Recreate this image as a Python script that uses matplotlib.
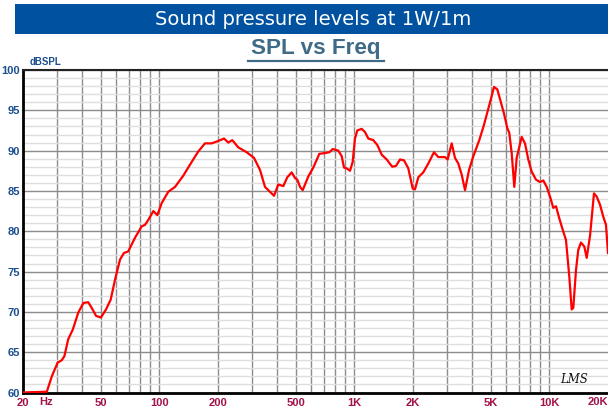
import matplotlib
matplotlib.use('Agg')
import matplotlib.pyplot as plt
from matplotlib.patches import Rectangle
from matplotlib.ticker import FixedLocator, NullFormatter
from matplotlib.transforms import blended_transform_factory

# ---- data ----
freq_hz = [20, 26.5, 28.1, 30.1, 31.6, 32.6, 34.1, 36.0, 38.4, 40.8, 43.2, 45.0,
           47.4, 50.2, 53.3, 56.3, 59.3, 62.9, 65.9, 69.3, 75.1, 81.2, 84.5, 87.8,
           93.2, 97.7, 102.9, 111.2, 120.4, 132.8, 146.6, 158.5, 171.5, 185.7,
           200.7, 214.7, 225.8, 236.7, 254.2, 280.7, 306, 328.5, 348.4, 369.6,
           387.6, 407.7, 432.5, 453.4, 477.5, 496.6, 510.2, 526.7, 543.9, 581,
           616.4, 661.6, 707.6, 744.6, 775, 828, 862, 885.6, 914, 950.6, 981,
           1008, 1036, 1091, 1135, 1180, 1251, 1312, 1382, 1466, 1566, 1636,
           1715, 1798, 1892, 1993, 2048, 2130, 2258, 2396, 2563, 2697, 2918,
           3012, 3158, 3284, 3415, 3556, 3697, 3876, 4076, 4375, 4625, 5006,
           5206, 5413, 5633, 5857, 6090, 6235, 6414, 6614, 6804, 7216, 7506,
           7804, 8122, 8546, 8960, 9316, 9697, 10084, 10484, 10823, 11254,
           11714, 12180, 12662, 13026, 13278, 13708, 14084, 14540, 15120,
           15554, 16172, 16952, 17502, 18198, 18920, 19530, 20000]
spl_db = [60.0, 60.1, 62.0, 63.7, 64.0, 64.5, 66.6, 67.8, 69.9, 71.1, 71.2, 70.5,
          69.5, 69.3, 70.3, 71.5, 74.0, 76.5, 77.3, 77.5, 79.2, 80.6, 80.8, 81.4,
          82.5, 82.0, 83.5, 84.9, 85.5, 86.9, 88.6, 89.9, 90.9, 90.9,
          91.2, 91.5, 91.0, 91.3, 90.4, 89.8, 89.1, 87.6, 85.5, 84.9,
          84.4, 85.8, 85.6, 86.7, 87.3, 86.6, 86.4, 85.5, 85.1, 86.8,
          87.9, 89.6, 89.7, 89.8, 90.2, 90.0, 89.3, 87.9, 87.8, 87.5, 88.6,
          91.5, 92.5, 92.7, 92.3, 91.5, 91.3, 90.7, 89.5, 88.9, 88.0, 88.1,
          88.9, 88.8, 87.8, 85.3, 85.2, 86.7, 87.3, 88.4, 89.8, 89.2, 89.2,
          88.9, 90.9, 89.1, 88.4, 87.0, 85.1, 87.6, 89.3, 91.3, 93.2, 96.3,
          97.9, 97.6, 96.1, 94.6, 92.8, 92.2, 89.7, 85.5, 89.1, 91.7, 90.9,
          88.9, 87.4, 86.4, 86.1, 86.3, 85.5, 84.3, 82.9, 83.1, 81.6,
          80.2, 78.9, 74.4, 70.3, 70.5, 75.2, 77.7, 78.6, 78.1,
          76.7, 79.4, 84.7, 84.3, 83.3, 81.8, 80.8, 77.3]

x_tick_values = [20, 50, 100, 200, 500, 1000, 2000, 5000, 10000, 20000]
x_tick_labels = ['20', '50', '100', '200', '500', '1K', '2K', '5K', '10K', '20K']
y_tick_values = [60, 65, 70, 75, 80, 85, 90, 95, 100]

banner_title = 'Sound pressure levels at 1W/1m'
chart_title = 'SPL vs Freq'
y_unit = 'dBSPL'

# ---- figure ----
W, H = 608, 411
fig = plt.figure(figsize=(W / 100, H / 100), dpi=100)

# axes run a little past the right edge of the picture (the reference is cut there)
left_px, right_px, top_px, bottom_px = 23, 610, 70, 392.5
ax = fig.add_axes([left_px / W, 1 - bottom_px / H, (right_px - left_px) / W,
                   (bottom_px - top_px) / H])

ax.plot(freq_hz, spl_db, color='#ff0000', lw=1.6, solid_joinstyle='round', zorder=5)

ax.set_xscale('log')
ax.set_xlim(20, 20480)
ax.set_ylim(60, 100)

minor_x = [m * 10 ** d for d in range(1, 5) for m in range(1, 10)]
minor_x = [v for v in minor_x if 20 < v < 20000 and v not in x_tick_values]
ax.xaxis.set_major_locator(FixedLocator(x_tick_values[:-1]))
ax.xaxis.set_minor_locator(FixedLocator(minor_x))
ax.xaxis.set_minor_formatter(NullFormatter())
ax.set_xticklabels(x_tick_labels[:-1])

ax.yaxis.set_major_locator(FixedLocator(y_tick_values))
ax.yaxis.set_minor_locator(FixedLocator([v for v in range(60, 101) if v % 5]))
ax.yaxis.set_minor_formatter(NullFormatter())

ax.grid(True, axis='x', which='both', color='#8c8c8c', lw=1.0)
ax.grid(True, axis='y', which='major', color='#8c8c8c', lw=1.0)
ax.grid(True, axis='y', which='minor', color='#dedede', lw=1.0)
ax.set_axisbelow(True)

ax.tick_params(axis='both', which='both', length=0)
ax.tick_params(axis='x', pad=4, labelsize=8, labelcolor='#a3124a')
ax.tick_params(axis='y', pad=2, labelsize=8, labelcolor='#1a4f8f')
for lab in ax.get_xticklabels() + ax.get_yticklabels():
    lab.set_fontweight('bold')
    lab.set_family('Liberation Sans')

trans = blended_transform_factory(ax.transData, fig.transFigure)
ax.text(x_tick_values[-1], 1 - 401.5 / H, x_tick_labels[-1], transform=trans,
        ha='right', va='center', fontsize=8, fontweight='bold', color='#a3124a',
        family='Liberation Sans', clip_on=False)

for s in ['left', 'bottom']:
    ax.spines[s].set_linewidth(2.0)
    ax.spines[s].set_color('black')
ax.spines['top'].set_linewidth(1.5)
ax.spines['top'].set_color('#222222')
ax.spines['right'].set_visible(False)

# "Hz" next to the 20 label
fig.text(46 / W, 1 - 401.5 / H, 'Hz', ha='center', va='center', fontsize=8,
         fontweight='bold', color='#a3124a', family='Liberation Sans')

# y unit
fig.text(30 / W, 1 - 62 / H, y_unit, ha='left', va='center', fontsize=7,
         fontweight='bold', color='#1a4f8f', family='Liberation Sans')

# banner
fig.patches.append(Rectangle((15 / W, 1 - 34 / H), 1 - 15 / W, 30 / H,
                             transform=fig.transFigure, facecolor='#0052a0',
                             edgecolor='none'))
fig.text(313 / W, 1 - 19.5 / H, banner_title, ha='center', va='center',
         fontsize=14, color='white', family='DejaVu Sans')

# chart title with underline
fig.text(316 / W, 1 - 48.5 / H, chart_title, ha='center', va='center',
         fontsize=16.2, fontweight='bold', color='#3f6b87', family='Liberation Sans')
fig.add_artist(plt.Line2D([248 / W, 384 / W], [1 - 61.5 / H, 1 - 61.5 / H],
                          transform=fig.transFigure, color='#3f6b87', lw=1.6))

# LMS mark
fig.text(574 / W, 1 - 379 / H, 'LMS', ha='center', va='center', fontsize=8.5,
         style='italic', family='DejaVu Serif', color='#111111', zorder=10)

fig.savefig('out.png', dpi=100)
